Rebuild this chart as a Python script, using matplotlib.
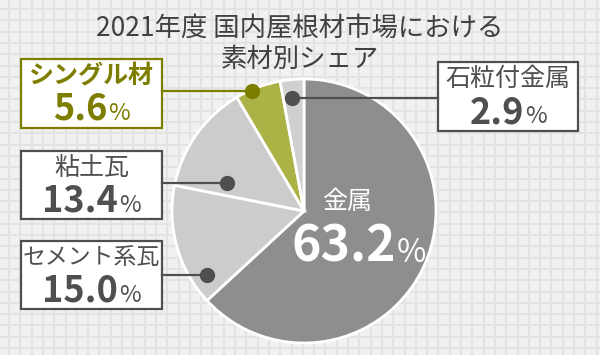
import numpy as np
import matplotlib.pyplot as plt

plt.rcParams['font.family'] = ['Noto Sans CJK JP', 'DejaVu Sans']

# データ
labels = ['金属', 'セメント系瓦', '粘土瓦', 'シングル材', '石粒付金属']
values = [63.2, 15.0, 13.4, 5.6, 2.9]
colors = ['#8e8e8e', '#cccccc', '#cccccc', '#abb246', '#d0d0d0']

W, H = 600, 355
fig = plt.figure(figsize=(6, 3.55), dpi=100)
fig.patch.set_facecolor('#f1f1f1')
ax = fig.add_axes([0, 0, 1, 1])
ax.set_facecolor('#f1f1f1')

def Y(y):
    # 上からのピクセル座標 -> データ座標
    return H - y

# 背景の方眼
gx = np.arange(9, W, 11.3)
gy = np.arange(9, H, 11.3)
ax.vlines(gx, 0, H, color='#e3e3e3', lw=1.5, zorder=0)
ax.hlines(Y(gy), 0, W, color='#e3e3e3', lw=1.5, zorder=0)

# 円グラフ
cx, cy, r = 304, 211, 132
ax.pie(values, colors=colors, startangle=90, counterclock=False,
       center=(cx, Y(cy)), radius=r,
       wedgeprops=dict(edgecolor='white', linewidth=2))
ax.set_xlim(0, W)
ax.set_ylim(0, H)
ax.set_aspect('equal')
ax.axis('off')

fig.text(0.5, 1 - 28 / H, '2021年度 国内屋根材市場における', ha='center', va='center',
         fontsize=19, color='#404040')
fig.text(0.5, 1 - 59 / H, '素材別シェア', ha='center', va='center',
         fontsize=19, color='#404040')

renderer = fig.canvas.get_renderer()

def value_text(x, base, num, size_num, size_pct, color):
    t1 = ax.text(0, Y(base), num, fontsize=size_num, fontweight='bold',
                 color=color, ha='left', va='baseline', zorder=5)
    t2 = ax.text(0, Y(base), '%', fontsize=size_pct, color=color,
                 ha='left', va='baseline', zorder=5)
    w1 = t1.get_window_extent(renderer).width
    w2 = t2.get_window_extent(renderer).width
    gap = 1
    left = x - (w1 + w2 + gap) / 2
    t1.set_x(left)
    t2.set_x(left + w1 + gap)

# ラベルボックス: (左, 上, 右, 下), 線の y, 点の x, 文字サイズ
boxes = {
    'シングル材': ((21, 59, 162, 128), 91, 252, 18),
    '石粒付金属': ((438, 62, 578, 131), 98, 292, 18),
    '粘土瓦': ((21, 151, 162, 219), 183, 227, 18),
    'セメント系瓦': ((21, 241, 162, 309), 275, 207, 16.5),
}
dark = '#4f4f4f'
olive = '#7d7d00'

for name, val in zip(labels, values):
    if name == '金属':
        ax.text(347, Y(202), name, fontsize=18, color='white',
                ha='center', va='center', zorder=5)
        value_text(359, 262, f'{val:.1f}', 36, 23, 'white')
        continue
    (x0, y0, x1, y1), ly, dx, fs = boxes[name]
    col = olive if name == 'シングル材' else dark
    ax.add_patch(plt.Rectangle((x0, Y(y1)), x1 - x0, y1 - y0, facecolor='white',
                               edgecolor=col, lw=1.6, zorder=3))
    if x0 < cx:
        ax.plot([x1, dx], [Y(ly), Y(ly)], color=col, lw=1.6, zorder=4)
    else:
        ax.plot([dx, x0], [Y(ly), Y(ly)], color=col, lw=1.6, zorder=4)
    ax.plot(dx, Y(ly), 'o', ms=10, color=col, zorder=4)
    xm = (x0 + x1) / 2
    ax.text(xm, Y(y0 + 17), name, fontsize=fs, color=col,
            fontweight='bold' if name == 'シングル材' else 'normal',
            ha='center', va='center', zorder=5)
    value_text(xm, y0 + 61, f'{val:.1f}', 26, 17, col)

fig.savefig('out.png', dpi=100, facecolor=fig.get_facecolor())
